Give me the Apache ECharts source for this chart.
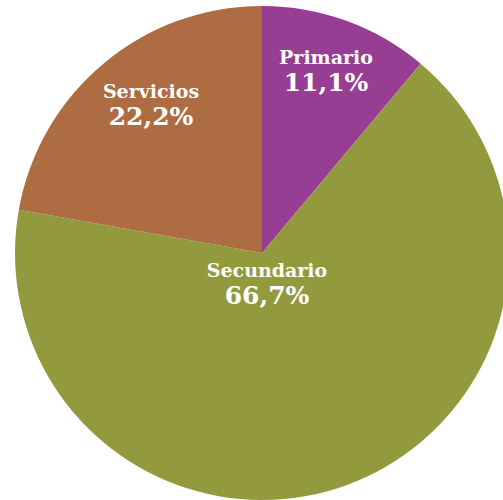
<!DOCTYPE html>
<html>
<head>
<meta charset="utf-8">
<script src="https://cdn.jsdelivr.net/npm/echarts@6/dist/echarts.min.js"></script>
<style>
html,body{margin:0;padding:0;background:#fff;}
</style>
</head>
<body>
<div id="c" style="width:503px;height:500px;"></div>
<script>
const categories = ['Primario', 'Secundario', 'Servicios'];
const values = [11.1, 66.7, 22.2];
const valueLabels = ['11,1%', '66,7%', '22,2%'];

const colors = ['#983D94', '#939A3E', '#AD6C41'];
const labelPos = [[326, 71], [267, 284], [151, 105]];

const chart = echarts.init(document.getElementById('c'), null, {renderer: 'svg', width: 503, height: 500});
chart.setOption({
  animation: false,
  series: [{
    type: 'pie',
    center: [262, 253],
    radius: [0, 247],
    startAngle: 90,
    clockwise: true,
    silent: true,
    data: categories.map((c, i) => ({
      name: c,
      value: values[i],
      itemStyle: {color: colors[i]}
    })),
    itemStyle: {borderWidth: 0},
    labelLine: {show: false},
    label: {
      show: true,
      position: 'inside',
      formatter: p => '{a|' + p.name + '}\n{b|' + valueLabels[p.dataIndex] + '}',
      rich: {
        a: {fontFamily: 'DejaVu Serif', fontWeight: 'bold', fontSize: 19, color: '#fff', lineHeight: 22, align: 'center'},
        b: {fontFamily: 'DejaVu Serif', fontWeight: 'bold', fontSize: 25, color: '#fff', lineHeight: 29, align: 'center'}
      }
    },
    labelLayout: p => ({x: labelPos[p.dataIndex][0], y: labelPos[p.dataIndex][1], align: 'center', verticalAlign: 'middle'})
  }]
});
</script>
</body>
</html>
